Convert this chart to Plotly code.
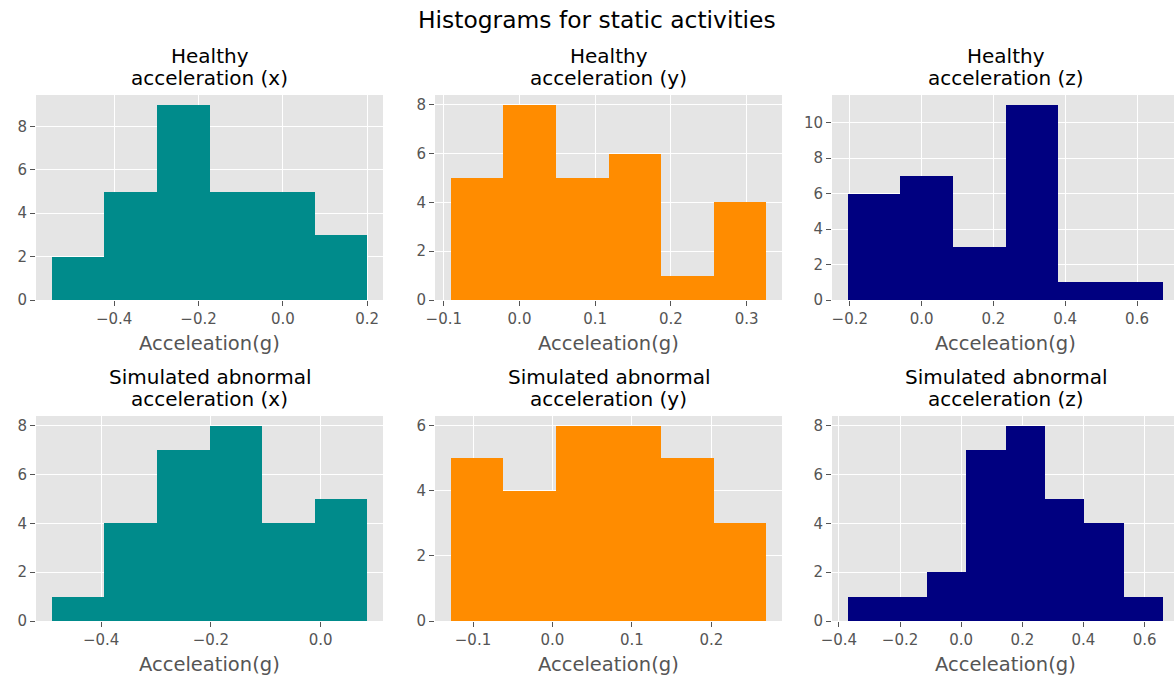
import numpy as np
import plotly.graph_objects as go

# ---- data ----
title_line1 = ["Healthy", "Healthy", "Healthy",
               "Simulated abnormal", "Simulated abnormal", "Simulated abnormal"]
title_line2 = ["acceleration (x)", "acceleration (y)", "acceleration (z)",
               "acceleration (x)", "acceleration (y)", "acceleration (z)"]
healthy_x_range = (-0.548, 0.200)
healthy_x_counts = [2, 5, 9, 5, 5, 3]
healthy_y_range = (-0.0908, 0.326)
healthy_y_counts = [5, 8, 5, 6, 1, 4]
healthy_z_range = (-0.2056, 0.673)
healthy_z_counts = [6, 7, 3, 11, 1, 1]
abnormal_x_range = (-0.490, 0.085)
abnormal_x_counts = [1, 4, 7, 8, 4, 5]
abnormal_y_range = (-0.128, 0.269)
abnormal_y_counts = [5, 4, 6, 6, 5, 3]
abnormal_z_range = (-0.371, 0.661)
abnormal_z_counts = [1, 1, 2, 7, 8, 5, 4, 1]
x_dticks = [0.2, 0.1, 0.2, 0.2, 0.1, 0.2]
colors = ["#008B8B", "#FF8C00", "#000080", "#008B8B", "#FF8C00", "#000080"]
x_label = "Acceleation(g)"
suptitle = "Histograms for static activities"

ranges = [healthy_x_range, healthy_y_range, healthy_z_range,
          abnormal_x_range, abnormal_y_range, abnormal_z_range]
counts = [healthy_x_counts, healthy_y_counts, healthy_z_counts,
          abnormal_x_counts, abnormal_y_counts, abnormal_z_counts]

W, H = 1174, 680
col_left = [36, 435, 832]
col_w = 347
row_top = [95, 416]
row_bottom = [300, 621]

FONT = "DejaVu Sans"
TICK = "#555555"
TICK_SIZE = 15

fig = go.Figure()
annotations = []
layout = {}


def ann(text, x, y_px, size, color):
    return dict(text=text, x=x, y=(H - y_px) / H, xref="paper", yref="paper",
                xanchor="center", yanchor="middle", showarrow=False,
                font=dict(size=size, color=color, family=FONT))


for i in range(6):
    r, c = divmod(i, 3)
    k = i + 1
    lo, hi = ranges[i]
    n = len(counts[i])
    edges = np.linspace(lo, hi, n + 1)
    centers = (edges[:-1] + edges[1:]) / 2
    width = edges[1] - edges[0]
    fig.add_trace(go.Bar(
        x=centers, y=counts[i], width=[width] * n,
        marker=dict(color=colors[i], line=dict(width=0)),
        xaxis=f"x{k}", yaxis=f"y{k}", showlegend=False, hoverinfo="x+y",
    ))
    span = hi - lo
    xr0, xr1 = lo - 0.05 * span, hi + 0.05 * span
    left = col_left[c]
    right = left + col_w
    if right > W:
        xr1 = xr0 + (xr1 - xr0) * (W - left) / col_w
        right = W
    xd = [left / W, right / W]
    yd = [(H - row_bottom[r]) / H, (H - row_top[r]) / H]
    layout[f"xaxis{k}"] = dict(
        domain=xd, anchor=f"y{k}", range=[xr0, xr1], dtick=x_dticks[i], tick0=0,
        tickformat=".1f", showgrid=True, gridcolor="white", gridwidth=1.1,
        zeroline=False, showline=False, ticks="outside", ticklen=5, tickwidth=1,
        tickcolor=TICK, tickfont=dict(size=TICK_SIZE, color=TICK, family=FONT),
        automargin=False,
    )
    layout[f"yaxis{k}"] = dict(
        domain=yd, anchor=f"x{k}", range=[0, max(counts[i]) * 1.05], dtick=2, tick0=0,
        showgrid=True, gridcolor="white", gridwidth=1.1, zeroline=False, showline=False,
        ticks="outside", ticklen=5, tickwidth=1, tickcolor=TICK,
        tickfont=dict(size=TICK_SIZE, color=TICK, family=FONT), automargin=False,
    )
    cx = (left + left + col_w) / 2 / W
    annotations.append(ann(title_line1[i], cx, row_top[r] - 39, 20, "black"))
    annotations.append(ann(title_line2[i], cx, row_top[r] - 17.5, 20, "black"))
    annotations.append(ann(x_label, cx, row_bottom[r] + 43, 19.5, TICK))

annotations.append(ann(suptitle, 597 / W, 20, 23.4, "black"))

fig.update_layout(
    width=W, height=H, margin=dict(l=0, r=0, t=0, b=0, autoexpand=False),
    paper_bgcolor="white", plot_bgcolor="#E5E5E5", bargap=0,
    font=dict(family=FONT), annotations=annotations, **layout,
)
fig.write_html("out.html")
